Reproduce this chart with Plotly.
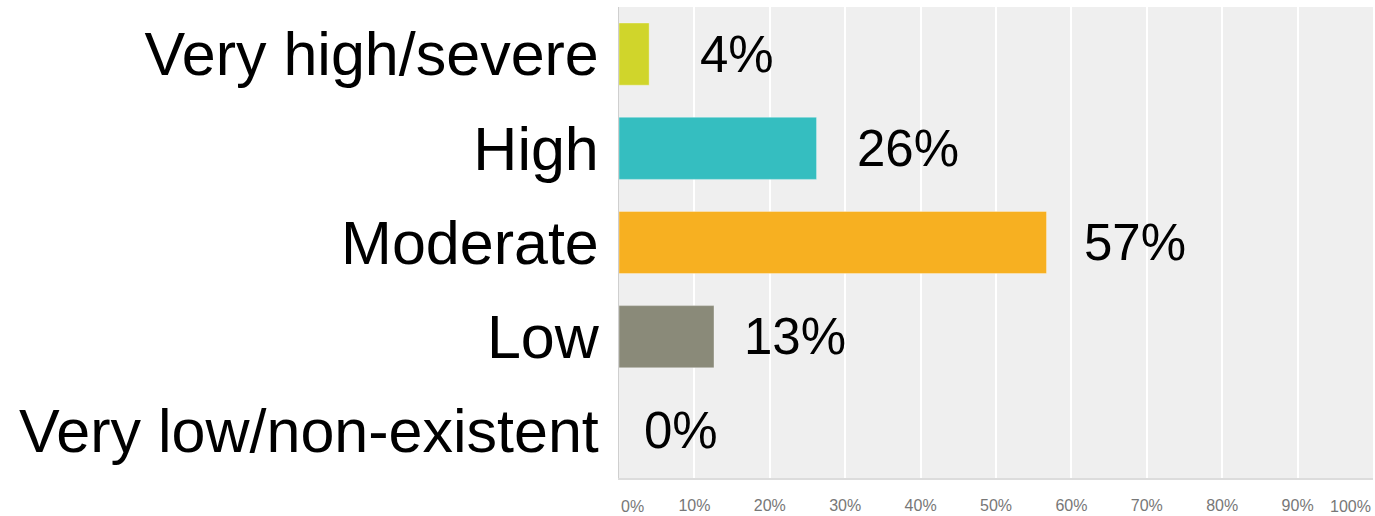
import plotly.graph_objects as go

categories = ["Very high/severe", "High", "Moderate", "Low", "Very low/non-existent"]
values = [4.0, 26.2, 56.7, 12.6, 0.0]
value_labels = ["4%", "26%", "57%", "13%", "0%"]
colors = ["#d0d52b", "#35bec0", "#f7b021", "#8a8a79", "#cccccc"]
tick_vals = [10, 20, 30, 40, 50, 60, 70, 80, 90]
tick_text = ["10%", "20%", "30%", "40%", "50%", "60%", "70%", "80%", "90%"]
edge_ticks = [(0, "0%", "left"), (100, "100%", "right")]

# pixel offsets of value labels from bar ends (style only)
label_shift = [49, 38, 35, 28, 23]

fig = go.Figure()
fig.add_trace(go.Bar(
    y=categories, x=values, orientation="h",
    marker=dict(color=colors, line=dict(color="rgba(255,255,255,0.35)", width=1)),
    width=0.66, hoverinfo="skip",
))

for c, v, t, s in zip(categories, values, value_labels, label_shift):
    fig.add_annotation(x=v, y=c, xref="x", yref="y", text=t, showarrow=False,
                       xanchor="left", yanchor="middle", xshift=s,
                       font=dict(family="Liberation Sans, Arial", size=51, color="#000"))

for v, t, anc in edge_ticks:
    fig.add_annotation(x=v, y=0, xref="x", yref="paper", text=t, showarrow=False,
                       xanchor=anc, yanchor="middle", yshift=-28,
                       font=dict(family="Liberation Sans, Arial", size=16, color="#777"))

fig.update_layout(
    width=1375, height=516,
    margin=dict(l=619, r=2, t=7, b=38),
    paper_bgcolor="white", plot_bgcolor="#efefef",
    showlegend=False, bargap=0.34,
    font=dict(family="Liberation Sans, Arial"),
)
fig.update_xaxes(range=[0, 100], tickvals=tick_vals, ticktext=tick_text,
                 showgrid=True, gridcolor="white", gridwidth=2,
                 zeroline=False, showline=True, linecolor="#dcdcdc", linewidth=2,
                 mirror=False, ticks="outside", ticklen=12, tickcolor="rgba(0,0,0,0)",
                 tickfont=dict(size=16, color="#777"), fixedrange=True)
fig.update_yaxes(categoryorder="array", categoryarray=categories[::-1],
                 showgrid=False, zeroline=False, showline=True, linecolor="#cfcfcf", linewidth=1,
                 ticks="outside", ticklen=7, tickcolor="rgba(0,0,0,0)",
                 tickfont=dict(size=61, color="#000"), fixedrange=True)

fig.write_html("out.html")
